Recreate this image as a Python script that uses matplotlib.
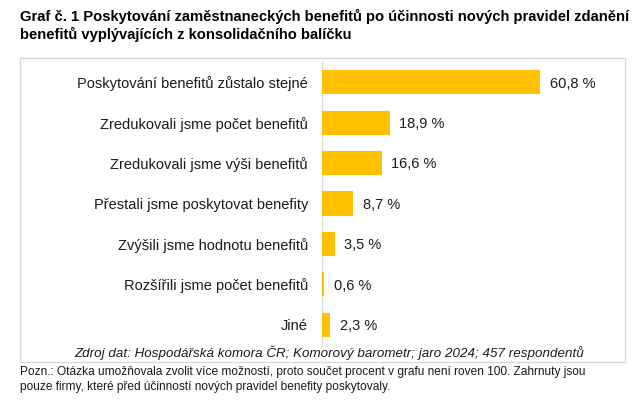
import matplotlib
matplotlib.use("Agg")
import matplotlib.pyplot as plt
from matplotlib.patches import Rectangle

plt.rcParams['font.family'] = ['Liberation Sans', 'DejaVu Sans']

categories = [
    "Poskytování benefitů zůstalo stejné",
    "Zredukovali jsme počet benefitů",
    "Zredukovali jsme výši benefitů",
    "Přestali jsme poskytovat benefity",
    "Zvýšili jsme hodnotu benefitů",
    "Rozšířili jsme počet benefitů",
    "Jiné",
]
values = [60.8, 18.9, 16.6, 8.7, 3.5, 0.6, 2.3]
value_labels = ["60,8 %", "18,9 %", "16,6 %", "8,7 %", "3,5 %", "0,6 %", "2,3 %"]

title = ("Graf č. 1 Poskytování zaměstnaneckých benefitů po účinnosti nových pravidel zdanění\n"
         "benefitů vyplývajících z konsolidačního balíčku")
source = "Zdroj dat: Hospodářská komora ČR; Komorový barometr; jaro 2024; 457 respondentů"
note = ("Pozn.: Otázka umožňovala zvolit více možností, proto součet procent v grafu není roven 100. Zahrnuty jsou\n"
        "pouze firmy, které před účinností nových pravidel benefity poskytovaly.")

W, H = 642, 409
fig = plt.figure(figsize=(W / 100, H / 100), dpi=100)
fig.patch.set_facecolor('white')

# light frame around the chart area
fig.patches.append(Rectangle((20 / W, 1 - 362 / H), 605 / W, 304 / H,
                             transform=fig.transFigure, fill=False,
                             edgecolor='#d9d9d9', linewidth=1))

ax = fig.add_axes([322 / W, 1 - 345 / H, 251 / W, 283 / H])
y = list(range(len(categories)))
ax.barh(y, values, height=0.6, color='#FFC000', zorder=3)
ax.set_ylim(len(categories) - 0.5, -0.5)
ax.set_xlim(0, 70)
ax.set_yticks(y)
ax.set_yticklabels(categories, fontsize=10.5, color='#1a1a1a')
ax.tick_params(axis='y', length=0, pad=10)
ax.set_xticks([])
for s in ['top', 'right', 'bottom']:
    ax.spines[s].set_visible(False)
ax.spines['left'].set_color('#d9d9d9')
ax.spines['left'].set_linewidth(1)
ax.spines['left'].set_zorder(1)

for yi, v, lab in zip(y, values, value_labels):
    ax.annotate(lab, (v, yi), xytext=(7, -1), textcoords='offset points',
                va='center', ha='left', fontsize=10.5, color='#1a1a1a')

fig.text(20 / W, 1 - 9 / H, title, fontsize=10.6, fontweight='bold',
         va='top', ha='left', linespacing=1.25)
fig.text(329 / W, 1 - 353 / H, source, fontsize=9.6, style='italic',
         va='center', ha='center', color='#1a1a1a')
fig.text(20 / W, 1 - 366 / H, note, fontsize=8.6, va='top', ha='left',
         linespacing=1.3, color='#1a1a1a')

fig.savefig("out.png", dpi=100)
